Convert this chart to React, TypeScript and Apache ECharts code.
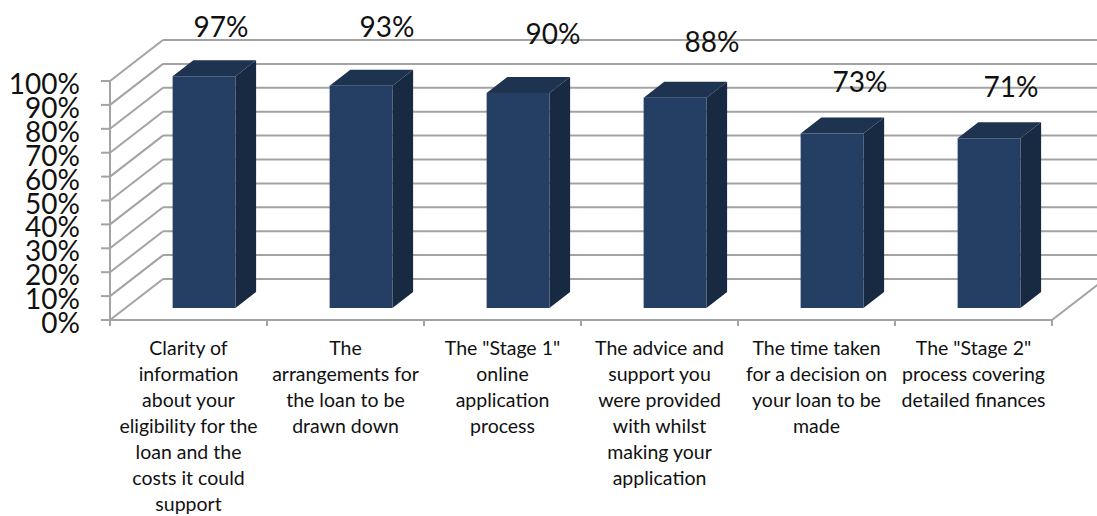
import React, { useEffect, useRef } from "react";
import * as echarts from "echarts";

const categories = [
  "Clarity of\ninformation\nabout your\neligibility for the\nloan and the\ncosts it could\nsupport",
  "The\narrangements for\nthe loan to be\ndrawn down",
  'The "Stage 1"\nonline\napplication\nprocess',
  "The advice and\nsupport you\nwere provided\nwith whilst\nmaking your\napplication",
  "The time taken\nfor a decision on\nyour loan to be\nmade",
  'The "Stage 2"\nprocess covering\ndetailed finances',
];
const satisfaction = [97, 93, 90, 88, 73, 71];
const wallTicks = [0, 10, 20, 30, 40, 50, 60, 70, 80, 90, 100];

// Hand-placed data label offsets from the top of each column's front face.
const labelShiftX = [17, 26, 35, 37, 28, 22];
const labelShiftY = [-50, -60, -60, -57, -53, -52];

const FONT = "Lato, Carlito, sans-serif";
const GRID_COLOR = "#a3a3a3";
const TEXT_COLOR = "#111111";

// Oblique projection of the chart depth.
const DEPTH_X = 53;
const DEPTH_Y = -41;
const BAR_NEAR = 0.293;
const BAR_DEPTH = 0.39;
const BAR_WIDTH_RATIO = 0.4;
const VALUE_TICK = 9;

const line = (x1: number, y1: number, x2: number, y2: number) => ({
  type: "line",
  shape: { x1, y1, x2, y2 },
  style: { stroke: GRID_COLOR, lineWidth: 2, fill: "none" },
});

// Walls, floor edge, value axis and its tick labels: the tick labels sit closer
// together than their font height, so they are placed here rather than on the axis,
// whose overlap handling would drop some of them.
const renderWall = (params: any, api: any) => {
  const cs = params.coordSys;
  const level = api.value(0);
  const y = api.coord([0, level])[1];
  const left = cs.x;
  const right = cs.x + cs.width;
  const children: any[] = [
    line(left, y, left + DEPTH_X, y + DEPTH_Y),
    line(left + DEPTH_X, y + DEPTH_Y, right + DEPTH_X, y + DEPTH_Y),
    line(left - VALUE_TICK, y, left, y),
    {
      type: "text",
      x: left - 30,
      y: y + 2,
      style: {
        text: `${level}%`,
        align: "right",
        verticalAlign: "middle",
        fill: TEXT_COLOR,
        font: `28px ${FONT}`,
      },
    },
  ];
  if (level === 0) {
    children.push(line(right, y, right + DEPTH_X, y + DEPTH_Y));
    children.push(line(left, y, left, cs.y));
  }
  return { type: "group", children };
};

const renderColumn = (_params: any, api: any) => {
  const value = api.value(1);
  const [cx, top] = api.coord([api.value(0), value]);
  const base = api.coord([api.value(0), 0])[1];
  const width = api.size([1, 0])[0] * BAR_WIDTH_RATIO;
  const x0 = cx + DEPTH_X * BAR_NEAR - width / 2;
  const x1 = x0 + width;
  const yTop = top + DEPTH_Y * BAR_NEAR;
  const yBase = base + DEPTH_Y * BAR_NEAR;
  const dx = DEPTH_X * BAR_DEPTH;
  const dy = DEPTH_Y * BAR_DEPTH;
  const face = (points: number[][], fill: string) => ({
    type: "polygon",
    shape: { points },
    style: { fill },
  });
  return {
    type: "group",
    children: [
      face([[x1, yBase], [x1 + dx, yBase + dy], [x1 + dx, yTop + dy], [x1, yTop]], "#182a41"),
      face([[x0, yTop], [x1, yTop], [x1 + dx, yTop + dy], [x0 + dx, yTop + dy]], "#1d3350"),
      face([[x0, yTop], [x1, yTop], [x1, yBase], [x0, yBase]], "#243f63"),
    ],
  };
};

const renderValueLabel = (params: any, api: any) => {
  const i = params.dataIndex;
  const [cx, top] = api.coord([api.value(0), api.value(1)]);
  return {
    type: "text",
    x: cx + DEPTH_X * BAR_NEAR + labelShiftX[i],
    y: top + DEPTH_Y * BAR_NEAR + labelShiftY[i],
    style: {
      text: `${api.value(1)}%`,
      align: "center",
      verticalAlign: "middle",
      fill: TEXT_COLOR,
      font: `28px ${FONT}`,
    },
  };
};

export default function App() {
  const ref = useRef<HTMLDivElement>(null);

  useEffect(() => {
    document.body.style.margin = "0";
    const chart = echarts.init(ref.current!, undefined, { renderer: "svg" });
    chart.setOption({
      animation: false,
      backgroundColor: "#ffffff",
      grid: { left: 110, right: 45, top: 81, bottom: 195, containLabel: false },
      xAxis: {
        type: "category",
        data: categories,
        axisLine: { lineStyle: { color: GRID_COLOR, width: 2 } },
        axisTick: { show: true, length: 6, lineStyle: { color: GRID_COLOR, width: 2 } },
        axisLabel: {
          interval: 0,
          margin: 14,
          fontFamily: FONT,
          fontSize: 19.5,
          lineHeight: 26,
          color: TEXT_COLOR,
          align: "center",
        },
      },
      yAxis: {
        type: "value",
        min: 0,
        max: 100,
        interval: 10,
        axisLine: { show: false },
        axisTick: { show: false },
        splitLine: { show: false },
        axisLabel: { show: false },
      },
      series: [
        {
          type: "custom",
          name: "Walls",
          coordinateSystem: "cartesian2d",
          clip: false,
          silent: true,
          z: 1,
          encode: { y: 0 },
          data: wallTicks.map((v) => [v]),
          renderItem: renderWall,
        },
        {
          type: "custom",
          name: "Satisfaction",
          coordinateSystem: "cartesian2d",
          clip: false,
          z: 2,
          encode: { x: 0, y: 1 },
          data: satisfaction.map((v, i) => [i, v]),
          renderItem: renderColumn,
        },
        {
          type: "custom",
          name: "Value labels",
          coordinateSystem: "cartesian2d",
          clip: false,
          silent: true,
          z: 3,
          encode: { x: 0, y: 1 },
          data: satisfaction.map((v, i) => [i, v]),
          renderItem: renderValueLabel,
        },
      ],
    });
    return () => chart.dispose();
  }, []);

  return (
    <div
      ref={ref}
      style={{ position: "absolute", left: 0, top: 0, width: 1097, height: 516, overflow: "hidden" }}
    />
  );
}
